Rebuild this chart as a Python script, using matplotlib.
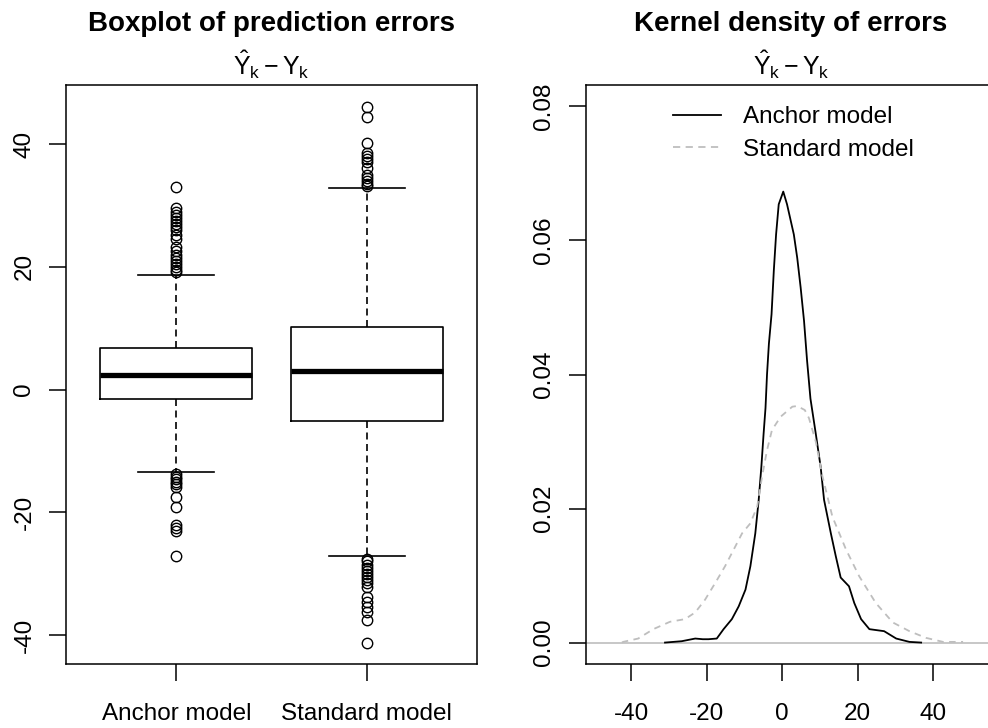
import numpy as np
import matplotlib
matplotlib.use('Agg')
import matplotlib.pyplot as plt
from matplotlib.lines import Line2D

plt.rcParams['font.family'] = ['Liberation Sans', 'DejaVu Sans']
plt.rcParams['mathtext.fontset'] = 'custom'
plt.rcParams['mathtext.rm'] = 'Liberation Sans'
plt.rcParams['mathtext.it'] = 'Liberation Sans'
plt.rcParams['axes.unicode_minus'] = False

# boxplot summaries
models = ['Anchor model', 'Standard model']
q1 = [-1.5, -5.2]
medians = [2.4, 3.1]
q3 = [6.7, 10.2]
whisker_lo = [-13.5, -27.1]
whisker_hi = [18.7, 32.8]

anchor_fliers = [33.0, 29.6, 29.0, 28.5, 28.0, 27.5, 27.0, 26.5, 26.0, 25.2,
                 24.5, 23.3, 22.5, 21.9, 21.5, 21.0, 20.5, 20.0, 19.5, 19.2,
                 -13.8, -14.2, -14.6, -15.0, -15.4, -15.8, -17.5, -19.2,
                 -22.0, -22.5, -23.0, -27.1]
standard_fliers = [46.1, 44.4, 40.1, 38.5, 38.0, 37.5, 37.0, 36.1, 35.0,
                   34.5, 34.0, 33.5, 33.1,
                   -27.6, -28.0, -28.5, -29.0, -29.5, -30.0, -30.5, -31.0,
                   -31.5, -32.2, -33.8, -34.6, -35.4, -36.2, -37.5, -41.2]

# kernel density curves
anchor_x = [-31.0, -26.6, -23.0, -21.0, -19.5, -17.3, -15.5, -13.3, -11.5,
            -9.7, -8.4, -7.1, -6.2, -5.5, -4.9, -4.4, -4.0, -3.5, -2.8, -2.2,
            -1.6, -0.9, 0.3, 1.3, 3.1, 4.0, 4.9, 5.8, 6.6, 7.5, 8.9, 10.2,
            11.1, 12.9, 14.2, 15.5, 17.7, 19.1, 20.9, 23.1, 27.0, 30.2, 33.7,
            36.8]
anchor_y = [0.0, 0.0002, 0.0006, 0.0005, 0.0005, 0.0006, 0.0020, 0.0035,
            0.0054, 0.0079, 0.0114, 0.0163, 0.0213, 0.0262, 0.0312, 0.0350,
            0.0400, 0.0446, 0.0490, 0.0555, 0.0609, 0.0654, 0.0673, 0.0654,
            0.0609, 0.0574, 0.0530, 0.0480, 0.0421, 0.0364, 0.0312, 0.0262,
            0.0213, 0.0163, 0.0129, 0.0097, 0.0084, 0.0059, 0.0035, 0.0020,
            0.0017, 0.0006, 0.0001, 0.0]

standard_x = [-42.4, -42.1, -38.1, -34.1, -29.7, -25.7, -23.0, -20.4, -17.7,
              -15.1, -12.8, -10.6, -8.4, -6.6, -5.3, -4.0, -2.7, -0.4, 2.7,
              4.0, 6.0, 7.1, 8.9, 10.6, 13.3, 16.9, 20.4, 24.8, 29.3, 33.7,
              38.1, 42.6, 47.9]
standard_y = [0.0, 0.0001, 0.0006, 0.0020, 0.0031, 0.0035, 0.0045, 0.0064,
              0.0089, 0.0114, 0.0139, 0.0163, 0.0178, 0.0203, 0.0248, 0.0287,
              0.0317, 0.0337, 0.0352, 0.0353, 0.0347, 0.0335, 0.0300, 0.0250,
              0.0188, 0.0139, 0.0099, 0.0059, 0.0030, 0.0017, 0.0007, 0.0001,
              0.0001]

fs = 17.5
grey = '#bebebe'

fig = plt.figure(figsize=(9.88, 7.28), dpi=100)
ax1 = fig.add_axes([0.0668, 0.0879, 0.416, 0.7953])
ax2 = fig.add_axes([0.5928, 0.0879, 0.416, 0.7953])

# left: boxplot
stats = []
for i in range(2):
    stats.append(dict(label=models[i], q1=q1[i], med=medians[i], q3=q3[i],
                      whislo=whisker_lo[i], whishi=whisker_hi[i],
                      fliers=[anchor_fliers, standard_fliers][i]))
ax1.bxp(stats, positions=[1, 2], widths=0.8, capwidths=0.4,
        boxprops=dict(color='black', lw=1.2),
        medianprops=dict(color='black', lw=3.8, solid_capstyle='butt'),
        whiskerprops=dict(color='black', lw=1.2, linestyle=(0, (4.2, 2.7))),
        capprops=dict(color='black', lw=1.2),
        flierprops=dict(marker='o', mfc='none', mec='black', ms=7.5, mew=1))
ax1.set_xlim(0.42, 2.58)
ax1.set_ylim(-44.7, 49.6)
ax1.set_xticks([1, 2], models)
ax1.set_yticks([-40, -20, 0, 20, 40])

# right: densities
ax2.axhline(0, color=grey, lw=1.2)
ax2.plot(anchor_x, anchor_y, color='black', lw=1.3)
ax2.plot(standard_x, standard_y, color=grey, lw=1.3, linestyle=(0, (3.6, 3.0)))
ax2.set_xlim(-52.0, 56.8)
ax2.set_ylim(-0.0032, 0.0832)
ax2.set_xticks([-40, -20, 0, 20, 40])
ax2.set_yticks([0, 0.02, 0.04, 0.06, 0.08], ['0.00', '0.02', '0.04', '0.06', '0.08'])

handles = [Line2D([], [], color='black', lw=1.3),
           Line2D([], [], color=grey, lw=1.3, linestyle=(0, (4, 3)))]
ax2.legend(handles, models, loc='upper left', bbox_to_anchor=(0.212, 0.963),
           frameon=False, fontsize=fs, handlelength=2.0, handletextpad=0.9,
           labelspacing=0.42, borderpad=0, borderaxespad=0)

for ax in (ax1, ax2):
    for s in ax.spines.values():
        s.set_linewidth(1.1)
    ax.tick_params(direction='out', length=12, width=1.1, labelsize=fs)
    ax.tick_params(axis='x', pad=16)
    ax.tick_params(axis='y', pad=10)
    for t in ax.get_yticklabels():
        t.set_rotation(90)
        t.set_va('center')

# titles
for cx, title in [(0.2748, 'Boxplot of prediction errors'),
                  (0.8006, 'Kernel density of errors')]:
    fig.text(cx, 0.957, title, ha='center', va='baseline',
             fontsize=20, fontweight='bold')
    fig.text(cx, 0.897, r'$\hat{Y}_k - Y_k$', ha='center', va='baseline',
             fontsize=18)

fig.savefig('out.png', dpi=100)
